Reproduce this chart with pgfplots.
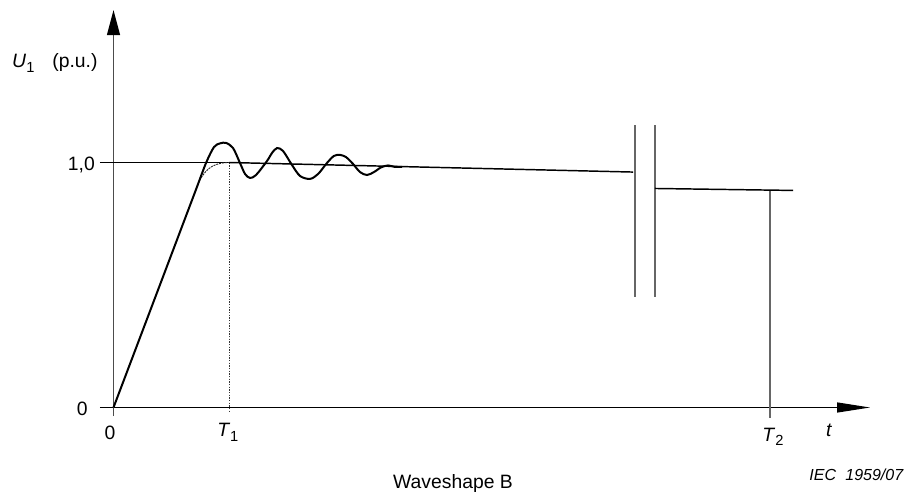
\documentclass[border=0pt]{standalone}
\usepackage{fontspec}
\setmainfont{Liberation Sans}
\usepackage{pgfplots}
\pgfplotsset{compat=1.18}
\usetikzlibrary{arrows.meta}
\newcommand{\lbl}{\fontsize{14.5}{16}\selectfont}
\newcommand{\sub}[1]{\raisebox{-0.45ex}{\fontsize{11}{12}\selectfont #1}}
\begin{document}
\begin{tikzpicture}
\begin{axis}[
  scale only axis, width=680.25pt, height=375pt,
  xmin=-0.9827, xmax=6.870, ymin=-0.3776, ymax=1.6633,
  hide axis, clip=false,
]
\path (rel axis cs:0,0) rectangle (rel axis cs:1,1);
% axes
\draw[line width=0.9pt, -{Triangle[length=24.75pt,width=7.5pt]}] (axis cs:-0.117,0) -- (axis cs:6.550,0);
\draw[line width=0.9pt, black!70, -{Triangle[length=18.75pt,width=9.75pt,color=black]}] (axis cs:0,-0.035) -- (axis cs:0,1.622);
% reference lines
\addplot[black, line width=0.7pt] coordinates {(-0.117,1.0) (1.0,1.0)};
\addplot[black!80, line width=0.6pt, dash pattern=on 1.2pt off 0.8pt] coordinates {(1.0,1.0) (1.0,-0.022)};
\addplot[black!60, line width=1.1pt] coordinates {(5.684,0.887) (5.684,-0.043)};
\addplot[black!60, line width=1.3pt] coordinates {(4.515,1.153) (4.515,0.451)};
\addplot[black!60, line width=1.3pt] coordinates {(4.688,1.153) (4.688,0.451)};
% decaying level
\addplot[black, line width=1.1pt] coordinates {(1.0,1.0) (4.498,0.961)};
\addplot[black, line width=1.1pt] coordinates {(4.688,0.894) (5.883,0.886)};
% ideal front (dashed)
\addplot[black!85, line width=0.7pt, dash pattern=on 1.5pt off 0.7pt, smooth] coordinates {
 (0.745,0.928) (0.80,0.964) (0.86,0.986) (0.93,0.997) (1.0,1.0)};
% oscillating wave
\addplot[black, line width=1.5pt, smooth, tension=0.5] coordinates {
 (0,0) (0.4,0.498) (0.7,0.872) (0.801,0.998) (0.870,1.063) (0.922,1.078)
 (0.974,1.080) (1.035,1.059) (1.095,0.998) (1.139,0.953) (1.182,0.937)
 (1.234,0.949) (1.329,1.006) (1.372,1.039) (1.416,1.059) (1.468,1.047)
 (1.545,0.990) (1.615,0.945) (1.701,0.933) (1.771,0.953) (1.848,0.998)
 (1.909,1.027) (1.961,1.031) (2.013,1.022) (2.074,0.994) (2.134,0.961)
 (2.195,0.949) (2.255,0.961) (2.316,0.980) (2.377,0.988) (2.437,0.982)
 (2.498,0.982)};
% labels
\node[anchor=base west, inner sep=0pt] at (axis cs:-0.879,1.386) {\lbl\textit{U}\sub{1}};
\node[anchor=base west, inner sep=0pt] at (axis cs:-0.532,1.386) {\lbl(p.u.)};
\node[anchor=base east, inner sep=0pt] at (axis cs:-0.160,0.969) {\lbl 1,0};
\node[anchor=base east, inner sep=0pt] at (axis cs:-0.221,-0.031) {\lbl 0};
\node[anchor=base, inner sep=0pt] at (axis cs:-0.03,-0.129) {\lbl 0};
\node[anchor=base west, inner sep=0pt] at (axis cs:0.896,-0.120) {\lbl\textit{T}\sub{1}};
\node[anchor=base west, inner sep=0pt] at (axis cs:5.615,-0.137) {\lbl\textit{T}\sub{2}};
\node[anchor=base, inner sep=0pt] at (axis cs:6.195,-0.120) {\lbl\textit{t}};
\node[anchor=base, inner sep=0pt] at (axis cs:2.939,-0.329) {\fontsize{14.5}{17}\selectfont Waveshape B};
\node[anchor=base east, inner sep=0pt] at (axis cs:6.844,-0.300) {\fontsize{12}{13}\selectfont\textit{IEC\hspace{7pt}1959/07}};
\end{axis}
\end{tikzpicture}
\end{document}
